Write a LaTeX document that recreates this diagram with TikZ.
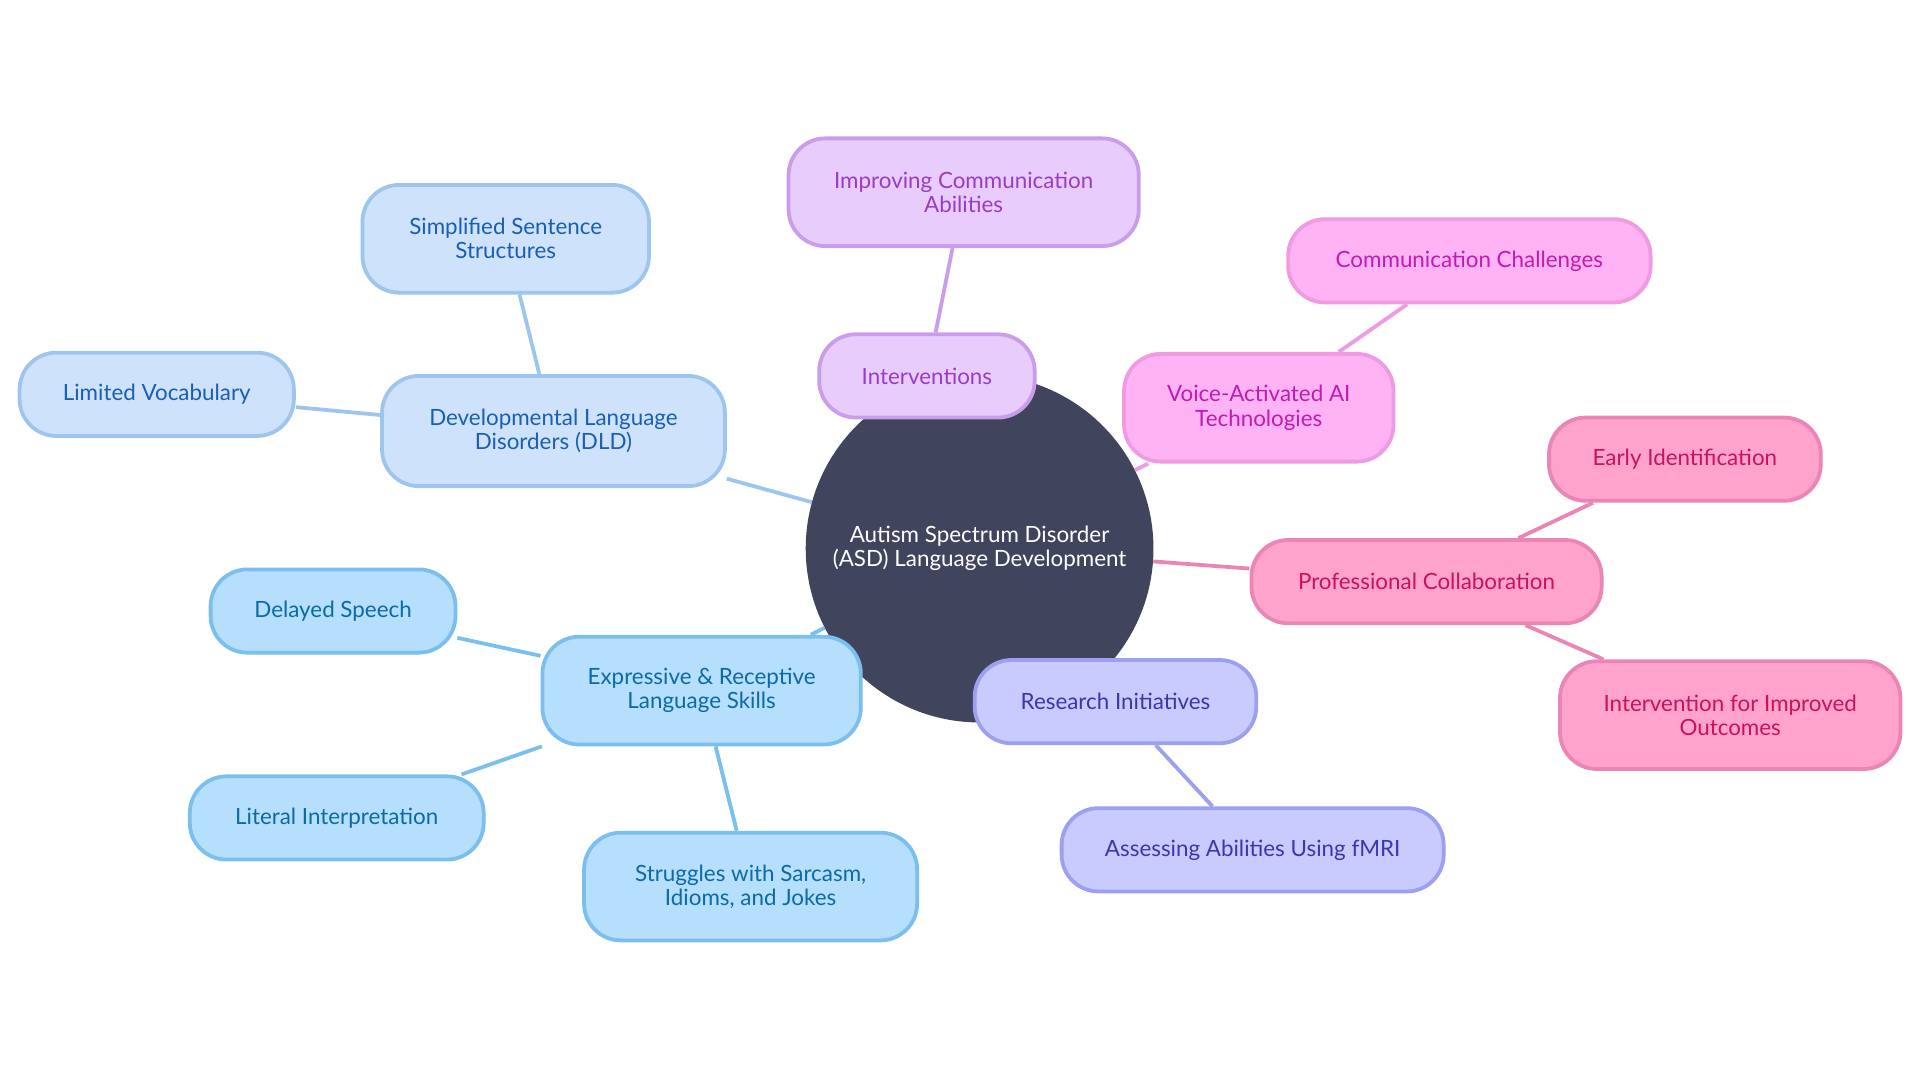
\documentclass[tikz,border=0pt]{standalone}
\usepackage{fontspec}
\setmainfont{Lato}
\usetikzlibrary{positioning,backgrounds}
\definecolor{dldfill}{HTML}{CFE2FB}\definecolor{dlddraw}{HTML}{9EC5EE}\definecolor{dldtext}{HTML}{1A5FB4}
\definecolor{expfill}{HTML}{B5DFFC}\definecolor{expdraw}{HTML}{7BBFEE}\definecolor{exptext}{HTML}{0D6AA8}
\definecolor{intfill}{HTML}{E8CCFB}\definecolor{intdraw}{HTML}{C99CEC}\definecolor{inttext}{HTML}{9B3CC8}
\definecolor{vocfill}{HTML}{FFB3F5}\definecolor{vocdraw}{HTML}{F09AE2}\definecolor{voctext}{HTML}{C21BB1}
\definecolor{profill}{HTML}{FFA3CC}\definecolor{prodraw}{HTML}{EA85B5}\definecolor{protext}{HTML}{C8125F}
\definecolor{resfill}{HTML}{C9CAFD}\definecolor{resdraw}{HTML}{9D9FF0}\definecolor{restext}{HTML}{3B37B0}
\definecolor{hub}{HTML}{40445C}
\tikzset{
  idea/.style 2 args={draw, rounded corners=0.75cm, line width=2.2pt, align=center,
    font=\fontsize{13}{14}\selectfont, inner sep=2pt,
    minimum width=#1*0.025cm, minimum height=#2*0.025cm},
  dld/.style={fill=dldfill, draw=dlddraw, text=dldtext},
  exp/.style={fill=expfill, draw=expdraw, text=exptext},
  int/.style={fill=intfill, draw=intdraw, text=inttext},
  voc/.style={fill=vocfill, draw=vocdraw, text=voctext},
  pro/.style={fill=profill, draw=prodraw, text=protext},
  res/.style={fill=resfill, draw=resdraw, text=restext},
  link/.style={line width=2.2pt}
}
\begin{document}
\begin{tikzpicture}[x=0.025cm,y=-0.025cm]
  \useasboundingbox (0,0) rectangle (1568,882);
  \node (asd) [circle, fill=hub, text=white, minimum size=284*0.025cm, align=center,
    font=\fontsize{13}{14}\selectfont] at (800,448) {Autism Spectrum Disorder\\(ASD) Language Development};
  % blue branches
  \node (dld) [idea={280}{90}, dld] at (452,352) {Developmental Language\\Disorders (DLD)};
  \node (simple) [idea={234}{88}, dld] at (413,195) {Simplified Sentence\\Structures};
  \node (vocab) [idea={224}{68}, dld] at (128,322) {Limited Vocabulary};
  \node (skills) [idea={260}{88}, exp] at (573,564) {Expressive \& Receptive\\Language Skills};
  \node (delay) [idea={200}{68}, exp] at (272,499) {Delayed Speech};
  \node (literal) [idea={240}{68}, exp] at (275,668) {Literal Interpretation};
  \node (sarcasm) [idea={272}{88}, exp] at (613,724) {Struggles with Sarcasm,\\Idioms, and Jokes};
  % purple / pink branches
  \node (interv) [idea={176}{68}, int] at (757,307) {Interventions};
  \node (improve) [idea={286}{88}, int] at (787,157) {Improving Communication\\Abilities};
  \node (voice) [idea={220}{88}, voc] at (1028,333) {Voice-Activated AI\\Technologies};
  \node (challenge) [idea={296}{68}, voc] at (1200,213) {Communication Challenges};
  \node (collab) [idea={286}{68}, pro] at (1165,475) {Professional Collaboration};
  \node (early) [idea={222}{68}, pro] at (1376,375) {Early Identification};
  \node (outcome) [idea={278}{88}, pro] at (1413,584) {Intervention for Improved\\Outcomes};
  \node (research) [idea={230}{68}, res] at (911,573) {Research Initiatives};
  \node (fmri) [idea={312}{68}, res] at (1023,694) {Assessing Abilities Using fMRI};
  \begin{scope}[on background layer]
    \draw[link, dlddraw] (asd) -- (dld) (dld) -- (simple) (dld) -- (vocab);
    \draw[link, expdraw] (asd) -- (skills) (skills) -- (delay) (skills) -- (literal) (skills) -- (sarcasm);
    \draw[link, intdraw] (asd) -- (interv) (interv) -- (improve);
    \draw[link, vocdraw] (asd) -- (voice) (voice) -- (challenge);
    \draw[link, prodraw] (asd) -- (collab) (collab) -- (early) (collab) -- (outcome);
    \draw[link, resdraw] (asd) -- (research) (research) -- (fmri);
  \end{scope}
\end{tikzpicture}
\end{document}
